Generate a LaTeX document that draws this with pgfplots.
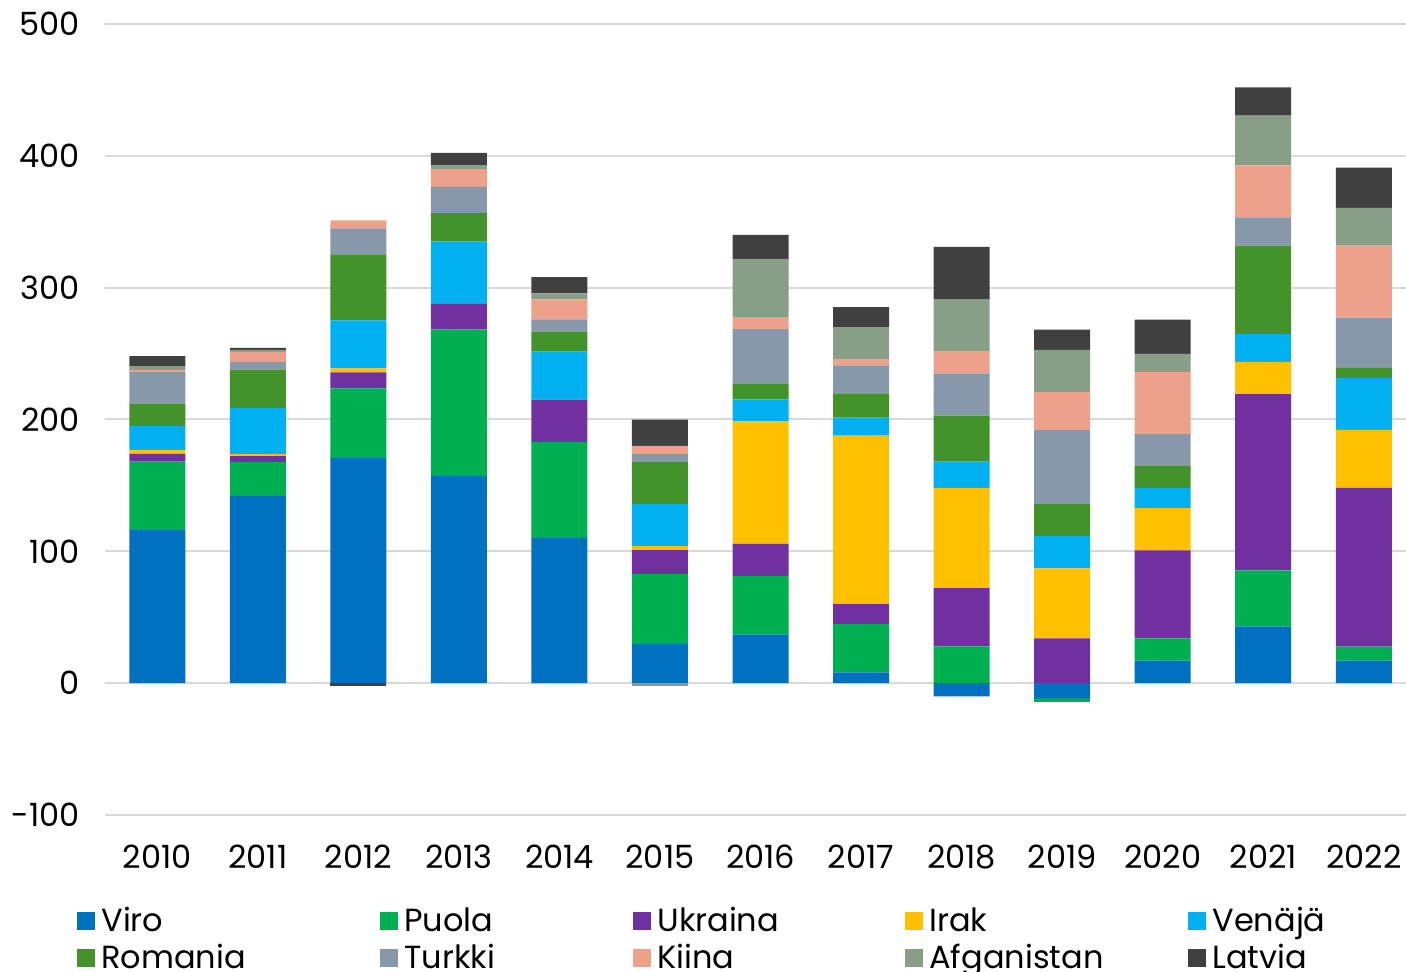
\documentclass[border=0pt]{standalone}
\usepackage{pgfplots}
\pgfplotsset{compat=1.18}
\usepackage{pgfplotstable}
\usepackage{fontspec}
\setmainfont{Poppins}
\definecolor{cViro}{HTML}{0070C0}
\definecolor{cPuola}{HTML}{00B050}
\definecolor{cUkr}{HTML}{7030A0}
\definecolor{cIrak}{HTML}{FFC000}
\definecolor{cVen}{HTML}{00B0F0}
\definecolor{cRom}{HTML}{44922A}
\definecolor{cTur}{HTML}{8798AA}
\definecolor{cKii}{HTML}{EEA18A}
\definecolor{cAfg}{HTML}{889E87}
\definecolor{cLat}{HTML}{404040}
\definecolor{cGrid}{HTML}{D9D9D9}

\pgfplotstableread{
x Viro Puola Ukraina Irak Venaja Romania Turkki Kiina Afg Latvia
0 116 52 6 3 18 17 24 1.5 3 7.5
1 142 25.8 4.5 1.5 35 29 6 7.5 1.5 1.5
2 170.7 53 12 3 36.4 50.1 19.7 6.1 0 0
3 157.2 111.1 19.8 0 47 21.4 19.9 13.5 3 9.3
4 110.3 72.7 32.1 0 36.4 15.2 9.2 15.2 4.6 12.2
5 29.6 53.2 18.2 3 32 31.8 6 6.2 0 19.9
6 37.1 44.1 24.4 92.9 16.7 12.2 41.1 9.2 44.1 18.3
7 8.1 36.6 15.2 127.9 13.7 18.3 21.3 4.6 24.4 15.2
8 0 27.9 44.2 76.1 19.8 35 32 16.8 39.6 39.6
9 0 0 33.9 53.1 24.5 24.4 56.2 28.7 32 15.3
10 17.1 16.8 66.9 32 15.3 16.5 24.4 47 13.8 25.9
11 43.1 42.4 133.7 24.5 21.3 66.9 21.4 39.4 37.8 21.4
12 17.1 10.7 120.3 44 39.4 7.6 38.1 54.7 28.7 30.5
}\pos

\pgfplotstableread{
x Viro Puola Afg Latvia
2 0 0 0 -2.5
5 0 0 -2 0
8 -10 0 0 0
9 -11.5 -3 0 0
}\negs

\pgfplotsset{
  base/.style={
    width=650.5bp, height=395.5bp, scale only axis,
    xmin=-0.52, xmax=12.42, ymin=-100, ymax=500,
    ybar stacked, bar width=28bp,
    at={(0,0)}, anchor=south west,
  }
}

\begin{document}
\begin{tikzpicture}
\useasboundingbox (-52.5bp,-78.5bp) rectangle (650.5bp,407.5bp);
\begin{axis}[base,
  font=\fontsize{16bp}{18bp}\selectfont,
  axis line style={draw=none},
  ytick={-100,0,...,500},
  ymajorgrids, grid style={cGrid, line width=1bp},
  major tick style={draw=none},
  xtick={0,...,12},
  xticklabels={2010,2011,2012,2013,2014,2015,2016,2017,2018,2019,2020,2021,2022},
  /pgf/number format/assume math mode=true,
  yticklabel style={anchor=east, xshift=-9bp},
  xticklabel style={anchor=north, yshift=-11.5bp},
  legend columns=5,
  legend cell align=left,
  legend style={draw=none, fill=none, inner sep=0pt,
    at={(axis description cs:-0.0215,-0.112)}, anchor=north west,
    font=\fontsize{16bp}{18bp}\selectfont,
    nodes={inner sep=1.5bp, anchor=west},
    /tikz/every even column/.append style={column sep=0pt},
    row sep=2bp},
  legend image code/.code={\fill[#1] (0bp,-4.5bp) rectangle (9bp,4.5bp);},
]
\addplot[fill=cViro, draw=none] table[x=x,y=Viro]{\pos};
\addplot[fill=cPuola, draw=none] table[x=x,y=Puola]{\pos};
\addplot[fill=cUkr, draw=none] table[x=x,y=Ukraina]{\pos};
\addplot[fill=cIrak, draw=none] table[x=x,y=Irak]{\pos};
\addplot[fill=cVen, draw=none] table[x=x,y=Venaja]{\pos};
\addplot[fill=cRom, draw=none] table[x=x,y=Romania]{\pos};
\addplot[fill=cTur, draw=none] table[x=x,y=Turkki]{\pos};
\addplot[fill=cKii, draw=none] table[x=x,y=Kiina]{\pos};
\addplot[fill=cAfg, draw=none] table[x=x,y=Afg]{\pos};
\addplot[fill=cLat, draw=none] table[x=x,y=Latvia]{\pos};
\legend{\hspace{1.5bp}\makebox[138bp][l]{Viro},\hspace{1.5bp}\makebox[113bp][l]{Puola},\hspace{1.5bp}\makebox[122.5bp][l]{Ukraina},\hspace{1.5bp}\makebox[128bp][l]{Irak},\hspace{1.5bp}Venäjä,
\hspace{1.5bp}Romania,\hspace{1.5bp}Turkki,\hspace{1.5bp}Kiina,\hspace{1.5bp}Afganistan,\hspace{1.5bp}Latvia}
\end{axis}
\begin{axis}[base, hide axis]
\addplot[fill=cViro, draw=none] table[x=x,y=Viro]{\negs};
\addplot[fill=cPuola, draw=none] table[x=x,y=Puola]{\negs};
\addplot[fill=cAfg, draw=none] table[x=x,y=Afg]{\negs};
\addplot[fill=cLat, draw=none] table[x=x,y=Latvia]{\negs};
\end{axis}
\end{tikzpicture}
\end{document}
